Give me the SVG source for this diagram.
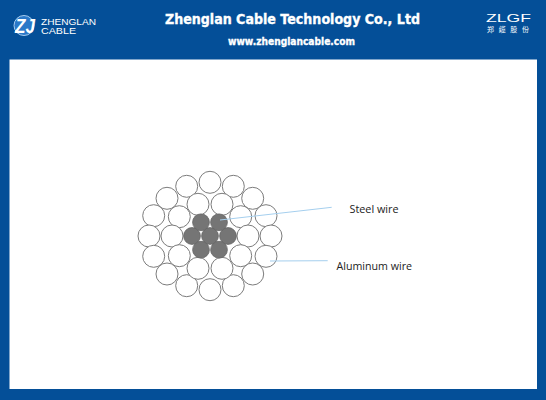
<svg xmlns="http://www.w3.org/2000/svg" width="546" height="400" viewBox="0 0 546 400">
<style>
.t{font-family:"DejaVu Sans",sans-serif;font-weight:700;fill:#fff;stroke:#fff;stroke-width:.35}
.l{font-family:"Open Sans","Liberation Sans",sans-serif;font-size:11px;fill:#222}
.a{fill:#fff;stroke:#7c7c7c;stroke-width:1}
.s{fill:#757575;stroke:#666;stroke-width:.8}
.c{stroke:#a5cfee;stroke-width:1;fill:none}
.h{font-family:"Liberation Sans",sans-serif;fill:#fff}
</style>
<rect width="546" height="400" fill="#044f98"/>
<rect x="9.5" y="59.5" width="527.5" height="329.5" fill="#fff"/>
<g id="logo-left">
<circle cx="24" cy="25.5" r="10" fill="#2a78c8" stroke="#a8cdf0" stroke-width="1"/>
<text x="25" y="33" text-anchor="middle" style="font-family:'Liberation Sans',sans-serif;font-weight:700;font-style:italic;font-size:20px;fill:#fff" textLength="20" lengthAdjust="spacingAndGlyphs">ZJ</text>
<text class="h" x="41" y="25.3" font-size="9" textLength="55" lengthAdjust="spacingAndGlyphs">ZHENGLAN</text>
<text class="h" x="41" y="34.2" font-size="9" textLength="35" lengthAdjust="spacingAndGlyphs">CABLE</text>
</g>
<g id="title">
<text class="t" x="165" y="24" font-size="14" textLength="255" lengthAdjust="spacingAndGlyphs">Zhenglan Cable Technology Co., Ltd</text>
<text class="t" x="228" y="44.5" font-size="10" textLength="127" lengthAdjust="spacingAndGlyphs">www.zhenglancable.com</text>
</g>
<g id="logo-right">
<text class="h" x="486" y="21.5" font-size="11" textLength="45" lengthAdjust="spacingAndGlyphs">ZLGF</text>
<text x="487" y="31.5" style="font-family:'Noto Sans CJK SC',sans-serif;font-size:7px;fill:#fff" textLength="42" lengthAdjust="spacing">郑缆股份</text>
</g>
<g id="aluminum-wires">
<circle class="a" cx="210" cy="182.3" r="11"/><circle class="a" cx="186.7" cy="186.3" r="11"/><circle class="a" cx="233.3" cy="186.3" r="11"/>
<circle class="a" cx="167" cy="198.3" r="11"/><circle class="a" cx="252.7" cy="198.3" r="11"/>
<circle class="a" cx="153.7" cy="215.7" r="11"/><circle class="a" cx="266" cy="215.7" r="11"/>
<circle class="a" cx="149" cy="236" r="11"/><circle class="a" cx="271" cy="236" r="11"/>
<circle class="a" cx="153.7" cy="256.3" r="11"/><circle class="a" cx="266" cy="256.3" r="11"/>
<circle class="a" cx="167" cy="274" r="11"/><circle class="a" cx="252.7" cy="274" r="11"/>
<circle class="a" cx="186.7" cy="285.7" r="11"/><circle class="a" cx="233.3" cy="285.7" r="11"/>
<circle class="a" cx="210" cy="289.7" r="11"/>
<circle class="a" cx="198" cy="204.3" r="11"/><circle class="a" cx="222" cy="204.3" r="11"/>
<circle class="a" cx="179.3" cy="216.7" r="11"/><circle class="a" cx="240.7" cy="216.7" r="11"/>
<circle class="a" cx="172" cy="236" r="11"/><circle class="a" cx="248" cy="236" r="11"/>
<circle class="a" cx="179.3" cy="255.7" r="11"/><circle class="a" cx="240.7" cy="255.7" r="11"/>
<circle class="a" cx="198" cy="268.3" r="11"/><circle class="a" cx="222" cy="268.3" r="11"/>
</g>
<g id="steel-wires">
<circle class="s" cx="210" cy="236" r="8.4"/><circle class="s" cx="192" cy="236" r="8.4"/><circle class="s" cx="228" cy="236" r="8.4"/>
<circle class="s" cx="201" cy="222.3" r="8.4"/><circle class="s" cx="219" cy="222.3" r="8.4"/>
<circle class="s" cx="201" cy="249.7" r="8.4"/><circle class="s" cx="219" cy="249.7" r="8.4"/>
</g>
<g id="connectors">
<line class="c" x1="220" y1="220" x2="331.7" y2="207.3"/>
<line class="c" x1="270" y1="261" x2="327.7" y2="260.7"/>
</g>
<g id="label-steel"><text class="l" x="349.5" y="213" textLength="49" lengthAdjust="spacingAndGlyphs">Steel wire</text></g>
<g id="label-aluminum"><text class="l" x="336.5" y="270" textLength="75.5" lengthAdjust="spacingAndGlyphs">Aluminum wire</text></g>
</svg>
